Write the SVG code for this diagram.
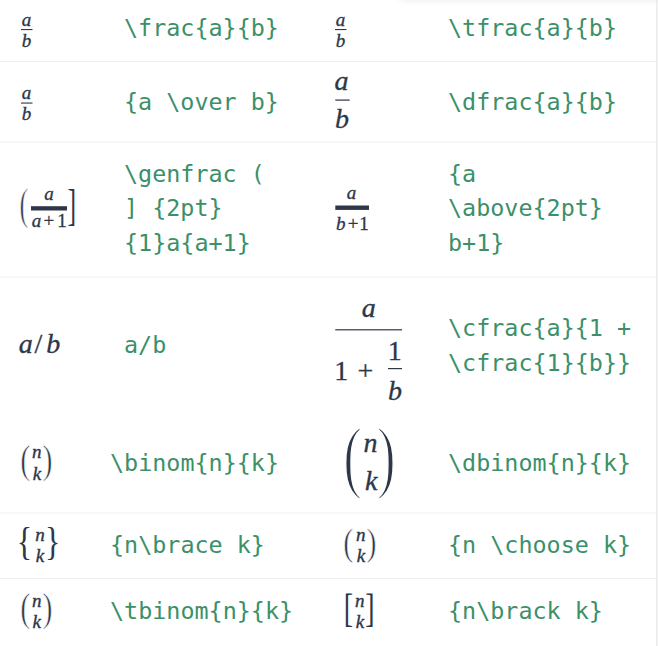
<svg xmlns="http://www.w3.org/2000/svg" width="658" height="646" viewBox="0 0 658 646">
<style>
.code{font-family:"DejaVu Sans Mono","Liberation Mono",monospace;font-size:23.4px;fill:#3b9069}
.mi{font-family:"Liberation Serif","DejaVu Serif",serif;font-style:italic;fill:#2d3748;stroke:#2d3748;stroke-width:0.35px;text-anchor:middle}
.mn{font-family:"Liberation Serif","DejaVu Serif",serif;fill:#2d3748;stroke:#2d3748;stroke-width:0.3px;text-anchor:middle}
.dl{font-family:"Liberation Serif","DejaVu Serif",serif;fill:#2d3748}
.thin{stroke:#ffffff;stroke-width:0.6px;vector-effect:non-scaling-stroke}
.dlb{stroke-width:1.6px}
.s{font-size:19px}
.d{font-size:28px}
.sep{stroke:#efefef;stroke-width:1.2}
.bar{fill:#2d3748}
</style>
<defs>
<filter id="blur" x="-20%" y="-200%" width="140%" height="500%"><feGaussianBlur stdDeviation="5"/></filter>
</defs>
<rect width="658" height="646" fill="#ffffff"/>
<rect x="400" y="-22" width="290" height="20" fill="#000" opacity="0.12" filter="url(#blur)"/>
<g id="grid">
<line class="sep" x1="0" y1="61.5" x2="656" y2="61.5"/>
<line class="sep" x1="0" y1="142" x2="656" y2="142"/>
<line class="sep" x1="0" y1="277" x2="656" y2="277"/>
<line class="sep" x1="0" y1="513" x2="656" y2="513"/>
<line class="sep" x1="0" y1="578.5" x2="656" y2="578.5"/>
<line x1="656.8" y1="0" x2="656.8" y2="646" stroke="#e6e6e6" stroke-width="1.2"/>
</g>
<g id="row1">
<text class="mi s" x="26.5" y="25.5">a</text>
<rect class="bar" x="21" y="29" width="11.5" height="1.1"/>
<text class="mi s" x="26.5" y="47">b</text>
<text class="code" x="124" y="36">\frac{a}{b}</text>
<text class="mi s" x="340.5" y="25.5">a</text>
<rect class="bar" x="335" y="29" width="11.5" height="1.1"/>
<text class="mi s" x="340.5" y="47">b</text>
<text class="code" x="448" y="36">\tfrac{a}{b}</text>
</g>
<g id="row2">
<text class="mi s" x="26.5" y="99">a</text>
<rect class="bar" x="21" y="102.5" width="11.5" height="1.1"/>
<text class="mi s" x="26.5" y="120">b</text>
<text class="code" x="124" y="110">{a \over b}</text>
<text class="mi d" x="341.5" y="89.5">a</text>
<rect class="bar" x="335.3" y="99.5" width="14.4" height="1.2"/>
<text class="mi d" x="342" y="128">b</text>
<text class="code" x="448" y="110">\dfrac{a}{b}</text>
</g>
<g id="row3">
<text class="dl thin" font-size="26" transform="translate(19.5,219.3) scale(1,1.67)">(</text>
<text class="mi s" x="49" y="199.5">a</text>
<rect class="bar" x="31" y="206.2" width="36" height="4.3"/>
<text class="mi s" x="36.5" y="227">a</text>
<text class="mn s" x="48.8" y="227">+</text>
<text class="mn s" x="62" y="227">1</text>
<text class="dl" font-size="26" transform="translate(67.5,219.9) scale(1,1.74)">]</text>
<text class="code" x="124" y="181.5">\genfrac (</text>
<text class="code" x="124" y="216">] {2pt}</text>
<text class="code" x="124" y="250.5">{1}a{a+1}</text>
<text class="mi s" x="351.5" y="199">a</text>
<rect class="bar" x="335.3" y="205.5" width="33.7" height="4.4"/>
<text class="mi s" x="340.8" y="230">b</text>
<text class="mn s" x="353" y="230">+</text>
<text class="mn s" x="364" y="230">1</text>
<text class="code" x="448" y="181.5">{a</text>
<text class="code" x="448" y="216">\above{2pt}</text>
<text class="code" x="448" y="250.5">b+1}</text>
</g>
<g id="row4">
<text class="mi d" x="25.8" y="353">a</text>
<text class="mn d" x="38.5" y="353">/</text>
<text class="mi d" x="53.3" y="353">b</text>
<text class="code" x="124" y="353">a/b</text>
<text class="mi d" x="368.8" y="316.5">a</text>
<rect class="bar" x="335.3" y="329.2" width="66.7" height="1.2"/>
<text class="mn d" x="341.3" y="380">1</text>
<text class="mn d" x="365.3" y="380">+</text>
<text class="mn d" x="394.7" y="359.5">1</text>
<rect class="bar" x="388" y="368" width="14" height="1.2"/>
<text class="mi d" x="395" y="399.5">b</text>
<text class="code" x="448" y="336">\cfrac{a}{1 +</text>
<text class="code" x="448" y="370.5">\cfrac{1}{b}}</text>
</g>
<g id="row5">
<text class="dl thin" font-size="30" transform="translate(20.3,473.1) scale(1,1.3)">(</text>
<text class="mi s" x="36.7" y="458">n</text>
<text class="mi s" x="37" y="480">k</text>
<text class="dl thin" font-size="30" transform="translate(42.4,473.1) scale(1,1.3)">)</text>
<text class="code" x="110" y="471">\binom{n}{k}</text>
<text class="dl thin dlb" font-size="56" transform="translate(343.2,482.5) scale(1,1.435)">(</text>
<text class="mi d" x="370.5" y="452">n</text>
<text class="mi d" x="371.3" y="490">k</text>
<text class="dl thin dlb" font-size="56" transform="translate(377,482.5) scale(1,1.435)">)</text>
<text class="code" x="448" y="471">\dbinom{n}{k}</text>
</g>
<g id="row6">
<text class="dl" font-size="32" transform="translate(16.8,554.8) scale(1,1.24)">{</text>
<text class="mi s" x="40" y="540.7">n</text>
<text class="mi s" x="40" y="561.7">k</text>
<text class="dl" font-size="32" transform="translate(45.1,554.8) scale(1,1.24)">}</text>
<text class="code" x="110" y="553.3">{n\brace k}</text>
<text class="dl thin" font-size="30" transform="translate(343.3,555.1) scale(1,1.24)">(</text>
<text class="mi s" x="360.8" y="540.7">n</text>
<text class="mi s" x="361" y="561.5">k</text>
<text class="dl thin" font-size="30" transform="translate(366.4,555.1) scale(1,1.24)">)</text>
<text class="code" x="448" y="553.3">{n \choose k}</text>
</g>
<g id="row7">
<text class="dl thin" font-size="30" transform="translate(20.3,621.4) scale(1,1.3)">(</text>
<text class="mi s" x="36.7" y="606.7">n</text>
<text class="mi s" x="36.7" y="628">k</text>
<text class="dl thin" font-size="30" transform="translate(42.4,621.4) scale(1,1.3)">)</text>
<text class="code" x="110" y="619">\tbinom{n}{k}</text>
<text class="dl" font-size="28" transform="translate(343.8,622) scale(1,1.45)">[</text>
<text class="mi s" x="359.7" y="606.5">n</text>
<text class="mi s" x="360" y="628">k</text>
<text class="dl" font-size="28" transform="translate(365.3,622) scale(1,1.45)">]</text>
<text class="code" x="448" y="619">{n\brack k}</text>
</g>
</svg>
